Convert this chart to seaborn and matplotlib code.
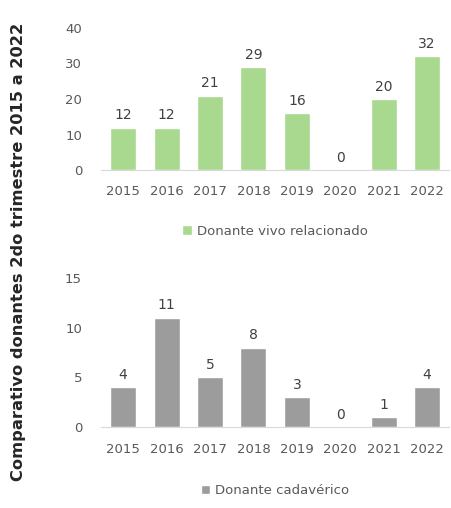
import matplotlib
matplotlib.use("Agg")
import matplotlib.pyplot as plt
import seaborn as sns
import pandas as pd

# Data
years = ["2015", "2016", "2017", "2018", "2019", "2020", "2021", "2022"]
vivo = [12, 12, 21, 29, 16, 0, 20, 32]
cadaverico = [4, 11, 5, 8, 3, 0, 1, 4]

df = pd.DataFrame({"Año": years, "vivo": vivo, "cadaverico": cadaverico})

sns.set_style("white")
plt.rcParams["font.family"] = ["DejaVu Sans"]

fig = plt.figure(figsize=(4.51, 5.08), dpi=100)
ax1 = fig.add_axes([0.225, 0.665, 0.77, 0.28])
ax2 = fig.add_axes([0.225, 0.159, 0.77, 0.294])


def style_axis(ax, ymax, step):
    ax.set_ylim(0, ymax)
    ax.set_yticks(range(0, ymax + 1, step))
    ax.set_xlabel("")
    ax.set_ylabel("")
    for s in ["top", "right", "left"]:
        ax.spines[s].set_visible(False)
    ax.spines["bottom"].set_color("#d9d9d9")
    ax.tick_params(axis="both", length=0, labelsize=9.5, colors="#595959")
    ax.tick_params(axis="x", pad=11)
    ax.tick_params(axis="y", pad=14)
    ax.bar_label(ax.containers[0], padding=4, fontsize=10, color="#404040")
    ax.legend(loc="upper center", bbox_to_anchor=(0.5, -0.3), frameon=False,
              fontsize=9.5, labelcolor="#595959", handlelength=0.7,
              handleheight=0.7, handletextpad=0.4)


# Donante vivo relacionado
sns.barplot(data=df, x="Año", y="vivo", color="#a9d98e", width=0.6,
            saturation=1, ax=ax1, label="Donante vivo relacionado")
style_axis(ax1, 40, 10)

# Donante cadavérico
sns.barplot(data=df, x="Año", y="cadaverico", color="#9c9c9c", width=0.6,
            saturation=1, ax=ax2, label="Donante cadavérico")
style_axis(ax2, 15, 5)

fig.text(0.04, 0.505, "Comparativo donantes 2do trimestre 2015 a 2022",
         rotation=90, ha="center", va="center", fontsize=11.7,
         fontweight="bold", color="#262626")

fig.savefig("out.png", dpi=100)
